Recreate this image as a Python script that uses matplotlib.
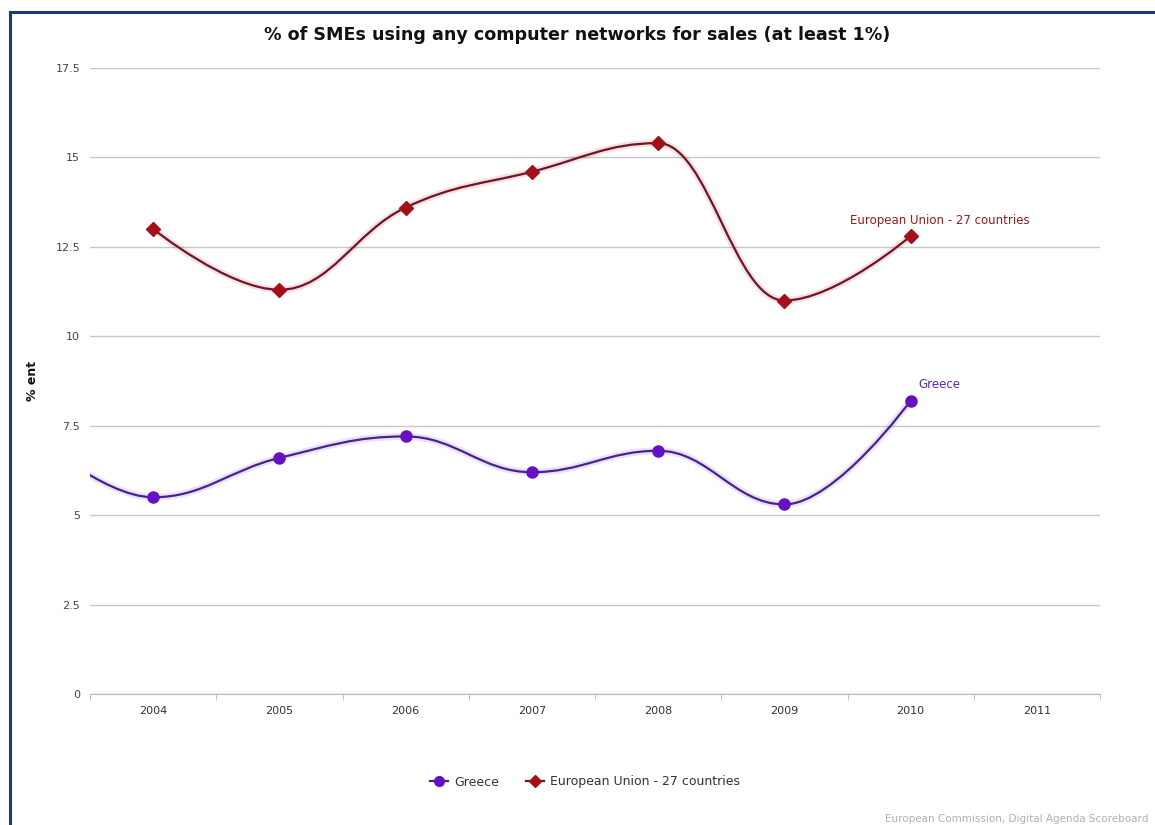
import matplotlib
matplotlib.use("Agg")
import matplotlib.pyplot as plt
from matplotlib.path import Path
from matplotlib.patches import PathPatch
from matplotlib.lines import Line2D

# percentage of SMEs selling through computer networks
greece_years = [2003, 2004, 2005, 2006, 2007, 2008, 2009, 2010]
greece_values = [7.4, 5.5, 6.6, 7.2, 6.2, 6.8, 5.3, 8.2]
eu_years = [2004, 2005, 2006, 2007, 2008, 2009, 2010]
eu_values = [13.0, 11.3, 13.6, 14.6, 15.4, 11.0, 12.8]
tick_years = [2004, 2005, 2006, 2007, 2008, 2009, 2010, 2011]

GREECE_LINE = "#48238c"
GREECE_MARK = "#6411c4"
EU_LINE = "#6e1628"
EU_MARK = "#a3101a"


def spline_path(xs, ys, smoothing=1.5):
    # bezier control points the same way highcharts builds its "spline" series
    n = len(xs)
    left = [(xs[0], ys[0])] * n
    right = [(xs[-1], ys[-1])] * n
    denom = smoothing + 1
    for i in range(1, n - 1):
        px, py = xs[i], ys[i]
        lx, ly = xs[i - 1], ys[i - 1]
        nx, ny = xs[i + 1], ys[i + 1]
        lcx = (smoothing * px + lx) / denom
        lcy = (smoothing * py + ly) / denom
        rcx = (smoothing * px + nx) / denom
        rcy = (smoothing * py + ny) / denom
        corr = (rcy - lcy) * (rcx - px) / (rcx - lcx) + py - rcy
        lcy += corr
        rcy += corr
        if lcy > ly and lcy > py:
            lcy = max(ly, py)
            rcy = 2 * py - lcy
        elif lcy < ly and lcy < py:
            lcy = min(ly, py)
            rcy = 2 * py - lcy
        if rcy > ny and rcy > py:
            rcy = max(ny, py)
            lcy = 2 * py - rcy
        elif rcy < ny and rcy < py:
            rcy = min(ny, py)
            lcy = 2 * py - rcy
        left[i] = (lcx, lcy)
        right[i] = (rcx, rcy)
    verts = [(xs[0], ys[0])]
    codes = [Path.MOVETO]
    for i in range(1, n):
        c1 = right[i - 1] if i - 1 > 0 else (xs[0], ys[0])
        c2 = left[i] if i < n - 1 else (xs[i], ys[i])
        verts += [c1, c2, (xs[i], ys[i])]
        codes += [Path.CURVE4] * 3
    return Path(verts, codes)


fig = plt.figure(figsize=(11.55, 8.25), dpi=100)
ax = fig.add_axes([90 / 1155, 1 - 694 / 825, 1010 / 1155, 626 / 825])

for xs, ys, lc, mc, mk, ms in [
    (greece_years, greece_values, GREECE_LINE, GREECE_MARK, "o", 8),
    (eu_years, eu_values, EU_LINE, EU_MARK, "D", 7),
]:
    path = spline_path(xs, ys)
    ax.add_patch(PathPatch(path, fill=False, edgecolor=mc, lw=5, alpha=0.12, zorder=2))
    ax.add_patch(PathPatch(path, fill=False, edgecolor=lc, lw=1.6, zorder=3))
    ax.plot(xs, ys, linestyle="none", marker=mk, ms=ms, color=mc,
            markeredgecolor=mc, zorder=4, clip_on=True)

ax.set_xlim(2003.5, 2011.5)
ax.set_ylim(0, 17.5)
ax.set_yticks([0, 2.5, 5, 7.5, 10, 12.5, 15, 17.5])
ax.set_yticklabels(["0", "2.5", "5", "7.5", "10", "12.5", "15", "17.5"])
ax.set_xticks(tick_years)
ax.set_xticks([y + 0.5 for y in [2003] + tick_years], minor=True)
ax.grid(axis="y", color="#c8c8c8", lw=1)
ax.set_axisbelow(True)
for side in ["top", "right", "left"]:
    ax.spines[side].set_visible(False)
ax.spines["bottom"].set_color("#b8b8b8")
ax.tick_params(axis="y", length=0, pad=7, labelsize=8, labelcolor="#444444")
ax.tick_params(axis="x", which="major", length=0, pad=9, labelsize=8, labelcolor="#333333")
ax.tick_params(axis="x", which="minor", length=4, color="#b8b8b8", direction="out")

# labels on the last points
ax.annotate("European Union - 27 countries", (eu_years[-1], eu_values[-1]),
            xytext=(21, 11), textcoords="offset points", ha="center", va="center",
            fontsize=8.5, color="#8a1c24")
ax.annotate("Greece", (greece_years[-1], greece_values[-1]),
            xytext=(21, 12), textcoords="offset points", ha="center", va="center",
            fontsize=8.5, color="#5b2aa6")

fig.text(0.5, 1 - 35 / 825, "% of SMEs using any computer networks for sales (at least 1%)",
         ha="center", va="center", fontsize=12.6, fontweight="bold", color="#111111")
fig.text(33 / 1155, 1 - 381 / 825, "% ent", rotation=90, ha="center", va="center",
         fontsize=9, fontweight="bold", color="#111111")

handles = [
    Line2D([], [], color=GREECE_LINE, marker="o", ms=7, markerfacecolor=GREECE_MARK,
           markeredgecolor=GREECE_MARK, lw=1.6),
    Line2D([], [], color=EU_LINE, marker="D", ms=6, markerfacecolor=EU_MARK,
           markeredgecolor=EU_MARK, lw=1.6),
]
fig.legend(handles, ["Greece", "European Union - 27 countries"], loc="center",
           bbox_to_anchor=(585 / 1155, 1 - 782 / 825), ncol=2, frameon=False,
           fontsize=9, handlelength=1.4, handletextpad=0.5, columnspacing=2.2,
           labelcolor="#333333")

fig.text(1148 / 1155, 1 - 814 / 825, "European Commission, Digital Agenda Scoreboard",
         ha="right", va="top", fontsize=7.5, color="#b0b0b0")

# dark blue frame running off the right and bottom edges
x0, y0 = 9.5 / 1155, 1 - 11.5 / 825
fig.add_artist(Line2D([x0, 1.0], [y0, y0], color="#1b3a7c", lw=2.2))
fig.add_artist(Line2D([x0, x0], [0.0, y0], color="#1b3a7c", lw=2.2))

fig.savefig("out.png", dpi=100)
